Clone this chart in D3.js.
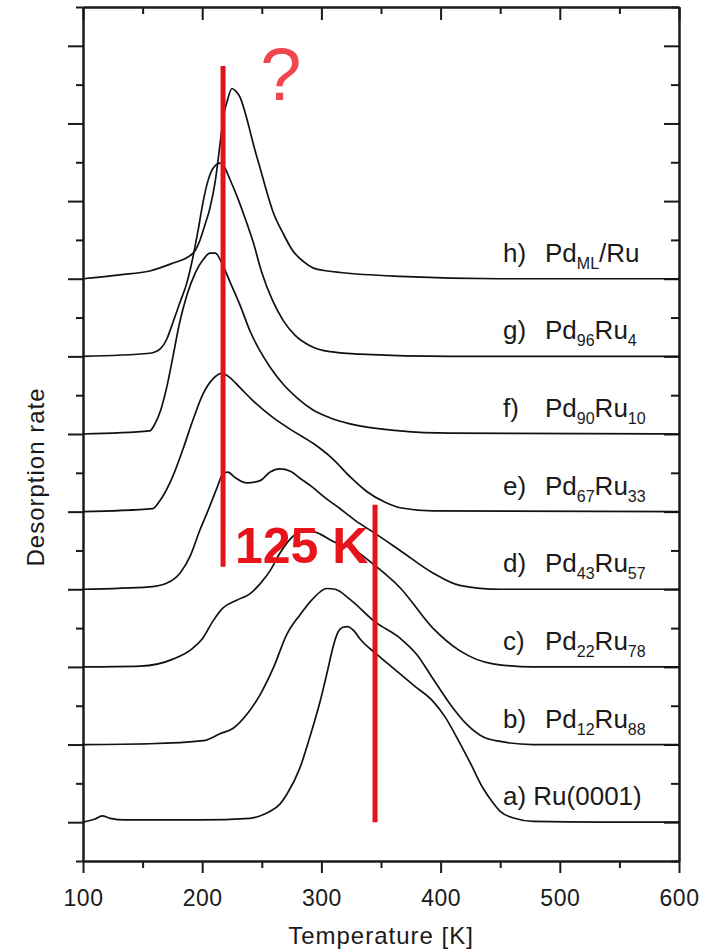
<!DOCTYPE html>
<html lang="en">
<head>
<meta charset="utf-8">
<title>TPD spectra PdRu</title>
<script src="https://cdn.jsdelivr.net/npm/d3@7"></script>
<style>
  body { margin: 0; background: #fff; }
  svg text { font-family: "Liberation Sans", Arial, Helvetica, sans-serif; fill: #1a1a1a; }
  .axis path, .axis line { stroke: #1a1a1a; stroke-width: 2; }
</style>
</head>
<body>
<script>

// ---- data: [temperature (K), desorption rate above the curve's own baseline] ----
var curveA = [[100,0],[110,0.04],[116,0.08],[123,0.05],[135,0.03],[198,0.03],[240,0.05],[250,0.09],[257,0.14],
  [265,0.23],[271,0.36],[282,0.70],[290,1.08],[299,1.56],[305,1.94],[310,2.27],[314,2.45],[318,2.51],[322,2.52],
  [327,2.47],[333,2.35],[345,2.18],[357.5,2.02],[366,1.91],[378.5,1.75],[393.5,1.56],[404,1.35],[414,1.08],[425,0.76],
  [435.5,0.44],[443,0.27],[450,0.14],[462,0.05],[477.5,0.01],[534,0],[600,0]];
var curveB = [[100,0],[156,0.01],[201,0.05],[215,0.14],[226,0.21],[237.5,0.39],[248.5,0.64],[259.5,0.98],
  [271,1.42],[282,1.67],[293,1.88],[304.5,2.01],[311.5,2.00],[324,1.87],[345,1.58],[366,1.37],[380,1.16],
  [393.5,0.85],[408,0.52],[422,0.26],[435.5,0.10],[450,0.04],[477.5,0],[600,0]];
var curveC = [[100,0],[148,0.01],[175.5,0.10],[192,0.24],[200.5,0.37],[209,0.59],[217.5,0.76],[229,0.86],
  [240,0.94],[248.5,1.07],[257,1.24],[265,1.46],[274,1.65],[282,1.74],[289,1.76],[299,1.71],[309.5,1.62],
  [326.5,1.52],[343,1.33],[366,1.02],[393.5,0.50],[416,0.21],[444,0.04],[477.5,0],[600,0]];
var curveD = [[100,0],[156,0.03],[170.5,0.08],[181.5,0.21],[190,0.43],[198,0.76],[204,0.98],[212.5,1.31],
  [217.5,1.49],[221.5,1.51],[227.5,1.44],[237.5,1.37],[248.5,1.40],[257,1.51],[265,1.55],[274,1.52],
  [282,1.43],[293,1.31],[303,1.18],[315.5,1.04],[328,0.89],[345,0.72],[366,0.50],[393.5,0.21],[416,0.05],
  [450,0],[600,0]];
var curveE = [[100,0],[158.5,0.04],[164.5,0.14],[175.5,0.46],[184,0.81],[192,1.17],[200.5,1.51],[209,1.71],
  [216.5,1.78],[223,1.73],[231.5,1.60],[242.5,1.43],[259.5,1.21],[276,1.04],[293,0.88],[309.5,0.68],
  [324,0.45],[338,0.26],[353.5,0.12],[366,0.05],[393.5,0.01],[600,0]];
var curveF = [[100,0],[156,0.04],[160,0.12],[165,0.30],[170.5,0.62],[175.5,1.00],[181,1.43],[187,1.78],
  [194,2.07],[201,2.25],[206.5,2.33],[211,2.33],[216.5,2.20],[223,1.97],[232,1.65],[240,1.33],[248.5,1.07],
  [257,0.86],[268,0.64],[280,0.46],[293,0.31],[307,0.21],[324,0.13],[366,0.04],[408,0.01],[600,0]];
var curveG = [[100,0],[156,0.04],[165,0.10],[170.5,0.23],[175.5,0.44],[181,0.68],[187,0.94],[192,1.26],
  [196.5,1.62],[201,2.01],[205,2.27],[209,2.42],[215,2.49],[219,2.43],[223,2.29],[229,2.07],[236,1.78],
  [243,1.46],[250,1.08],[259,0.72],[268,0.46],[278,0.27],[290,0.14],[307,0.06],[332,0.03],[408,0],[600,0]];
var curveH = [[100,0],[131,0.05],[156,0.10],[177,0.21],[187,0.27],[194,0.36],[198,0.49],[202,0.68],
  [206.5,0.91],[211,1.26],[215,1.74],[218,2.10],[221,2.29],[225,2.45],[228,2.42],[232,2.33],[236,2.14],
  [240,1.91],[244,1.67],[248.5,1.43],[254,1.13],[259,0.88],[268,0.58],[276,0.36],[285,0.22],[293,0.14],
  [305,0.10],[316,0.08],[366,0.03],[450,0],[600,0]];

var curves = [curveA, curveB, curveC, curveD, curveE, curveF, curveG, curveH];
var baselines = [0.5, 1.5, 2.5, 3.5, 4.5, 5.5, 6.5, 7.5];   // stacking offsets

// label parts: [text, isSubscript]
var letters = ["a)", "b)", "c)", "d)", "e)", "f)", "g)", "h)"];
var formulas = [
  [["Ru(0001)", 0]],
  [["Pd", 0], ["12", 1], ["Ru", 0], ["88", 1]],
  [["Pd", 0], ["22", 1], ["Ru", 0], ["78", 1]],
  [["Pd", 0], ["43", 1], ["Ru", 0], ["57", 1]],
  [["Pd", 0], ["67", 1], ["Ru", 0], ["33", 1]],
  [["Pd", 0], ["90", 1], ["Ru", 0], ["10", 1]],
  [["Pd", 0], ["96", 1], ["Ru", 0], ["4", 1]],
  [["Pd", 0], ["ML", 1], ["/Ru", 0]]
];

var xMajor = [100, 200, 300, 400, 500, 600];
var xMinor = [150, 250, 350, 450, 550];
var yMajor = [0.5, 1.5, 2.5, 3.5, 4.5, 5.5, 6.5, 7.5, 8.5, 9.5, 10.5];
var yMinor = [0, 1, 2, 3, 4, 5, 6, 7, 8, 9, 10, 11];

// red annotations
var markLines = [{t: 217.5, y0: 3.79, y1: 10.24}, {t: 345, y0: 0.50, y1: 4.59}];
var shiftText = {t: 227.5, y: 3.84, text: "125 K"};
var questionMark = {t: 266, y: 9.8, text: "?"};

// ---- canvas ----
var w = 720, h = 952;
var svg = d3.select("body").append("svg")
  .attr("width", w)
  .attr("height", h);

var x = d3.scaleLinear().domain([100, 600]).range([83, 679]);
var y = d3.scaleLinear().domain([0, 11]).range([861, 7]);

// axes
function addAxis(axis, tx, ty) {
  return svg.append("g").attr("class", "axis")
    .attr("transform", "translate(" + tx + "," + ty + ")")
    .call(axis);
}

var bottom = addAxis(d3.axisBottom(x).tickValues(xMajor).tickSize(12).tickSizeOuter(0).tickPadding(17), 0, y(0));
bottom.selectAll("text").style("font-size", "23px").style("letter-spacing", "0.5px");
addAxis(d3.axisBottom(x).tickValues(xMinor).tickSize(7).tickSizeOuter(0).tickFormat(""), 0, y(0));
addAxis(d3.axisTop(x).tickValues(xMajor).tickSize(-13).tickSizeOuter(0).tickFormat(""), 0, y(11));
addAxis(d3.axisTop(x).tickValues(xMinor).tickSize(-7).tickSizeOuter(0).tickFormat(""), 0, y(11));
addAxis(d3.axisLeft(y).tickValues(yMajor).tickSize(15).tickSizeOuter(0).tickFormat(""), x(100), 0);
addAxis(d3.axisLeft(y).tickValues(yMinor).tickSize(7).tickSizeOuter(0).tickFormat(""), x(100), 0);
addAxis(d3.axisRight(y).tickValues(yMajor).tickSize(-15).tickSizeOuter(0).tickFormat(""), x(600), 0);
addAxis(d3.axisRight(y).tickValues(yMinor).tickSize(-8).tickSizeOuter(0).tickFormat(""), x(600), 0);

// axis titles
svg.append("text")
  .attr("x", (x(100) + x(600)) / 2)
  .attr("y", 944)
  .attr("text-anchor", "middle")
  .style("font-size", "24px")
  .style("letter-spacing", "1px")
  .text("Temperature [K]");

svg.append("text")
  .attr("transform", "translate(44,477) rotate(-90)")
  .attr("text-anchor", "middle")
  .style("font-size", "24px")
  .style("letter-spacing", "1px")
  .text("Desorption rate");

// curves
curves.forEach(function(data, i) {
  var line = d3.line()
    .x(function(d) { return x(d[0]); })
    .y(function(d) { return y(d[1] + baselines[i]); })
    .curve(d3.curveMonotoneX);

  svg.append("path")
    .datum(data)
    .attr("d", line)
    .attr("fill", "none")
    .attr("stroke", "#111")
    .attr("stroke-width", 1.7)
    .attr("stroke-linejoin", "round");
});

// curve labels
baselines.forEach(function(b, i) {
  var ly = y(b) - 17;
  var single = formulas[i].length == 1;
  var t = svg.append("text")
    .attr("x", 503)
    .attr("y", ly)
    .style("font-size", "26px");
  if (single) {
    t.text(letters[i] + " " + formulas[i][0][0]);
    return;
  }
  t.text(letters[i]);

  var f = svg.append("text")
    .attr("x", 545)
    .attr("y", ly)
    .style("font-size", "26px");
  var down = false;
  formulas[i].forEach(function(p) {
    var sp = f.append("tspan").text(p[0]);
    if (p[1] && !down) { sp.attr("dy", 7).style("font-size", "16px"); down = true; }
    else if (p[1]) { sp.style("font-size", "16px"); }
    else if (down) { sp.attr("dy", -7); down = false; }
  });
});

// red markers
markLines.forEach(function(m) {
  svg.append("line")
    .attr("x1", x(m.t)).attr("x2", x(m.t))
    .attr("y1", y(m.y0)).attr("y2", y(m.y1))
    .attr("stroke", "#e3121b")
    .attr("stroke-width", 5);
});

svg.append("text")
  .attr("x", x(shiftText.t))
  .attr("y", y(shiftText.y))
  .style("font-size", "50px")
  .style("font-weight", "bold")
  .style("fill", "#e8141c")
  .text(shiftText.text);

svg.append("text")
  .attr("x", x(questionMark.t))
  .attr("y", y(questionMark.y))
  .attr("text-anchor", "middle")
  .style("font-size", "74px")
  .style("fill", "#f0464e")
  .text(questionMark.text);

</script>
</body>
</html>
